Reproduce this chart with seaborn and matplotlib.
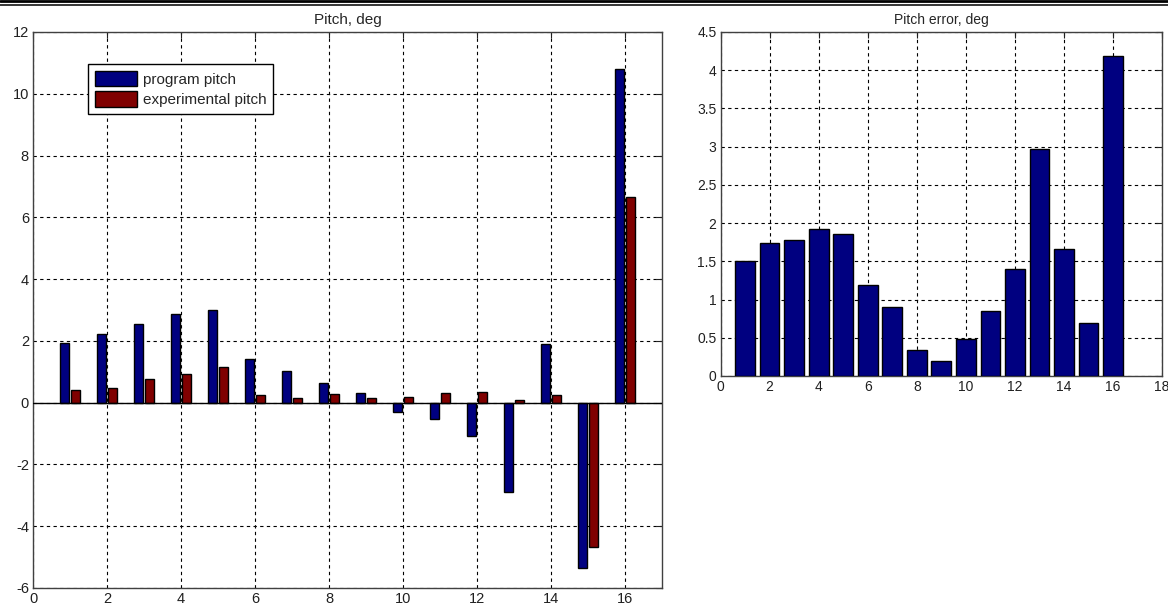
import numpy as np
import pandas as pd
import seaborn as sns
import matplotlib.pyplot as plt
from matplotlib.patches import Patch
from matplotlib.lines import Line2D
from matplotlib.ticker import MultipleLocator, FormatStrFormatter

sns.set_style("white")
plt.rcParams['font.family'] = ['Liberation Sans', 'DejaVu Sans']
plt.rcParams['axes.unicode_minus'] = False

# measurement number
points = list(range(1, 17))

# pitch values, deg
program_pitch = [1.93, 2.22, 2.54, 2.87, 3.00, 1.42, 1.03, 0.64,
                 0.32, -0.30, -0.52, -1.07, -2.89, 1.89, -5.36, 10.80]
experimental_pitch = [0.42, 0.46, 0.75, 0.92, 1.14, 0.24, 0.14, 0.28,
                      0.14, 0.17, 0.32, 0.35, 0.10, 0.24, -4.68, 6.65]

# pitch error, deg
pitch_error = [1.50, 1.74, 1.785, 1.925, 1.86, 1.19, 0.90, 0.345,
               0.19, 0.49, 0.85, 1.40, 2.97, 1.66, 0.69, 4.18]

series_names = ['program pitch', 'experimental pitch']
navy = '#000080'
maroon = '#800000'

pitch_df = pd.DataFrame({
    'point': points * 2,
    'pitch': program_pitch + experimental_pitch,
    'series': [series_names[0]] * 16 + [series_names[1]] * 16,
})
error_df = pd.DataFrame({'point': points, 'error': pitch_error})

fig = plt.figure(figsize=(11.68, 6.08), dpi=100)
ax1 = fig.add_axes([0.0283, 0.0329, 0.5385, 0.9145])
ax2 = fig.add_axes([0.617, 0.3816, 0.3778, 0.5658])

grid_kw = dict(color='black', linestyle=(0, (3, 3)), linewidth=0.8)

# left: grouped bars
sns.barplot(data=pitch_df, x='point', y='pitch', hue='series', ax=ax1,
            native_scale=True, width=0.62, gap=0.2, saturation=1,
            palette=[navy, maroon], edgecolor='black', linewidth=1,
            errorbar=None, legend=False, zorder=3)
ax1.axhline(0, color='black', linewidth=1, zorder=4)
ax1.set_xlim(0, 17)
ax1.set_ylim(-6, 12)
ax1.xaxis.set_major_locator(MultipleLocator(2))
ax1.yaxis.set_major_locator(MultipleLocator(2))
ax1.set_title('Pitch, deg', fontsize=11, pad=6)
handles = [Patch(facecolor=navy, edgecolor='black'),
           Patch(facecolor=maroon, edgecolor='black')]
leg = ax1.legend(handles, series_names, loc='upper left',
                 bbox_to_anchor=(0.087, 0.942), borderaxespad=0,
                 fontsize=11, handlelength=2.8, handleheight=1.15,
                 handletextpad=0.35, labelspacing=0.3, borderpad=0.45,
                 frameon=True, fancybox=False, framealpha=1)
leg.get_frame().set_edgecolor('black')
leg.get_frame().set_linewidth(1)

# right: error bars
sns.barplot(data=error_df, x='point', y='error', ax=ax2, native_scale=True,
            width=0.8, saturation=1, color=navy, edgecolor='black',
            linewidth=1, errorbar=None, zorder=3)
ax2.set_xlim(0, 18)
ax2.set_ylim(0, 4.5)
ax2.xaxis.set_major_locator(MultipleLocator(2))
ax2.yaxis.set_major_locator(MultipleLocator(0.5))
ax2.yaxis.set_major_formatter(FormatStrFormatter('%g'))
ax2.set_title('Pitch error, deg', fontsize=10, pad=6)

for ax in (ax1, ax2):
    ax.set_xlabel('')
    ax.set_ylabel('')
    ax.grid(True, **grid_kw)
    ax.set_axisbelow(True)
    for sp in ax.spines.values():
        sp.set_visible(True)
        sp.set_color('#404040')
        sp.set_linewidth(1)
    ax.tick_params(direction='in', length=4, top=True, right=True,
                   labelsize=10.5, colors='#202020', pad=3)
ax2.tick_params(labelsize=10)

# double rule at the top of the page
fig.add_artist(Line2D([0, 1], [1 - 1.4 / 608] * 2, transform=fig.transFigure,
                      color='black', linewidth=2.0))
fig.add_artist(Line2D([0, 1], [1 - 5.0 / 608] * 2, transform=fig.transFigure,
                      color='black', linewidth=1.1))

fig.savefig('out.png', dpi=100)
